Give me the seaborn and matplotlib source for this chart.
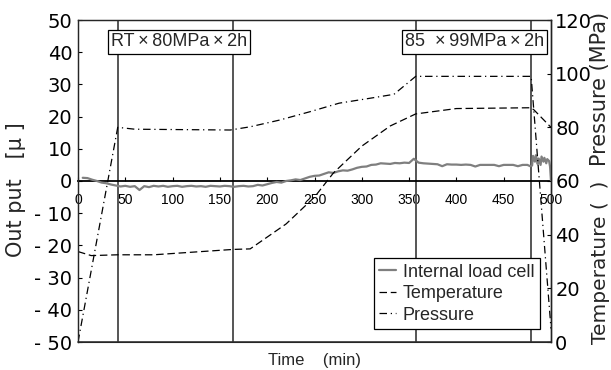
import matplotlib
matplotlib.use("Agg")
import matplotlib.pyplot as plt
import seaborn as sns
import pandas as pd

# ---------------- data ----------------
lc_time = [5, 10, 15, 20, 25, 30, 35, 40, 45, 50, 55, 60, 65, 70, 75, 80, 85, 90, 95, 100,
           105, 110, 115, 120, 125, 130, 135, 140, 145, 150, 155, 160, 165, 170, 175, 180,
           185, 190, 195, 200, 205, 210, 215, 220, 225, 230, 235, 240, 245, 250, 255, 260,
           265, 270, 275, 280, 285, 290, 295, 300, 305, 310, 315, 320, 325, 330, 335, 340,
           345, 350, 355, 360, 365, 370, 375, 380, 385, 390, 395, 400, 405, 410, 415, 420,
           425, 430, 435, 440, 445, 450, 455, 460, 465, 470, 475, 478, 480, 481, 483, 484,
           486, 487, 489, 490, 492, 493, 495, 496, 498, 499, 500]
lc_value = [1.0, 0.9, 0.4, 0.0, -0.5, -0.7, -1.1, -1.4, -1.7, -1.5, -1.8, -1.6, -2.8, -1.6,
            -1.9, -1.5, -1.7, -1.5, -1.8, -1.6, -1.5, -1.8, -1.6, -1.5, -1.7, -1.6, -1.8,
            -1.5, -1.6, -1.7, -1.5, -1.6, -1.8, -1.6, -1.5, -1.7, -1.6, -1.2, -1.4, -1.0,
            -0.6, -0.3, -0.5, 0.0, 0.2, 0.5, 0.3, 0.8, 1.3, 1.6, 1.7, 2.2, 2.7, 2.5, 3.0,
            3.3, 3.2, 3.6, 4.1, 4.4, 4.5, 5.0, 5.1, 5.5, 5.4, 5.3, 5.6, 5.5, 5.7, 5.6, 6.9,
            5.7, 5.5, 5.4, 5.3, 5.2, 4.6, 5.2, 5.1, 5.1, 5.0, 5.1, 5.0, 4.5, 5.0, 5.0, 5.0,
            5.0, 4.6, 5.0, 5.0, 5.0, 4.6, 5.0, 5.0, 4.6, 4.8, 7.8, 6.0, 8.0, 5.2, 7.0, 5.0,
            7.6, 6.0, 7.2, 5.5, 6.8, 6.2, 4.5, 0.0]

temp_time = [0, 14, 42, 80, 164, 182, 220, 250, 270, 300, 330, 357, 400, 479, 482, 500]
temp_value = [33.7, 32.2, 32.5, 32.5, 34.5, 34.7, 44.0, 54.0, 63.0, 73.0, 80.5, 85.0, 87.0,
              87.3, 86.5, 80.0]

pres_time = [0, 42, 60, 161, 182, 213, 245, 276, 308, 334, 357, 479, 500]
pres_value = [0.0, 80.0, 79.3, 79.0, 80.2, 82.7, 85.8, 89.0, 90.8, 92.3, 99.0, 99.0, 5.0]

phase_marks = [42, 164, 357, 479]
left_ticks = [-50, -40, -30, -20, -10, 0, 10, 20, 30, 40, 50]
left_labels = ["- 50", "- 40", "- 30", "- 20", "- 10", "0",
               "10", "20", "30", "40", "50"]
x_ticks = [0, 50, 100, 150, 200, 250, 300, 350, 400, 450, 500]
right_ticks = [0, 20, 40, 60, 80, 100, 120]
box1_text = "RT\u2009×\u200980MPa\u2009×\u20092h"
box2_text = "85  ×\u200999MPa\u2009×\u20092h"

# ---------------- style ----------------
sns.set_style("ticks")
plt.rcParams['font.family'] = ['Liberation Sans', 'DejaVu Sans']
plt.rcParams['xtick.direction'] = 'in'
plt.rcParams['ytick.direction'] = 'in'

W, H = 611, 370
fig = plt.figure(figsize=(W / 100, H / 100), dpi=100)
ax = fig.add_axes([78 / W, (H - 342) / H, (551 - 78) / W, (342 - 20) / H])
ax2 = ax.twinx()

lc_df = pd.DataFrame({"t": lc_time, "v": lc_value})
temp_df = pd.DataFrame({"t": temp_time, "v": temp_value})
pres_df = pd.DataFrame({"t": pres_time, "v": pres_value})

for xm in phase_marks:
    ax.axvline(xm, color="#555555", lw=1.4, zorder=1)

sns.lineplot(data=lc_df, x="t", y="v", ax=ax, color="#7f7f7f", lw=1.6,
             estimator=None, sort=False, label="Internal load cell", zorder=3)
sns.lineplot(data=temp_df, x="t", y="v", ax=ax2, color="black", lw=0.9,
             estimator=None, sort=False, label="Temperature")
sns.lineplot(data=pres_df, x="t", y="v", ax=ax2, color="black", lw=0.9,
             estimator=None, sort=False, label="Pressure")
ax2.lines[0].set_linestyle((0, (6, 3)))
ax2.lines[1].set_linestyle((0, (6, 3, 1, 3)))

# left axis
ax.set_xlim(0, 500)
ax.set_ylim(-50, 50)
ax.set_yticks(left_ticks)
ax.set_yticklabels(left_labels, fontfamily='DejaVu Sans', fontsize=14)
ax.set_xticks(x_ticks)
ax.set_xticklabels([str(v) for v in x_ticks], fontsize=12)
ax.spines['bottom'].set_position(('data', 0))
ax.spines['bottom'].set_color('black')
ax.spines['bottom'].set_linewidth(1.3)
for s in ['left', 'top', 'right']:
    ax.spines[s].set_color('#333333')
    ax.spines[s].set_linewidth(1.0)
ax.axhline(-50, color='#333333', lw=1.2, clip_on=False, zorder=5)
ax.tick_params(axis='both', length=3, width=0.8, colors='black')
ax.tick_params(axis='y', pad=4)
ax.tick_params(axis='x', pad=8.5)
ax.set_xlabel("Time    (min)", fontsize=12)
ax.xaxis.set_label_coords(0.5, -0.035)
ax.set_ylabel("")

# right axis
ax2.set_ylim(0, 120)
ax2.set_yticks(right_ticks)
ax2.set_yticklabels([str(v) for v in right_ticks], fontfamily='DejaVu Sans', fontsize=14)
ax2.tick_params(axis='y', length=3, width=0.8, pad=3, colors='black')
ax2.spines['right'].set_color('#222222')
ax2.spines['right'].set_linewidth(1.0)
ax2.set_ylabel("")
ax2.set_xlim(0, 500)

fig.text(16 / W, 1 - 190 / H, "Out put   [μ ]", rotation=90, ha='center', va='center',
         fontsize=15, fontfamily='DejaVu Sans')
fig.text(600 / W, 1 - 89 / H, "Pressure (MPa)", rotation=90, ha='center', va='center',
         fontsize=15, fontfamily='DejaVu Sans')
fig.text(600 / W, 1 - 262 / H, "Temperature (  )", rotation=90, ha='center', va='center',
         fontsize=14.5, fontfamily='DejaVu Sans')

bbox = dict(boxstyle='square,pad=0.18', facecolor='white', edgecolor='black', lw=0.9)
ax.text((111 - 78) / 473, (342 - 42) / 322, box1_text, transform=ax.transAxes,
        ha='left', va='center', fontsize=13, bbox=bbox, zorder=6)
ax.text((405 - 78) / 473, (342 - 42) / 322, box2_text, transform=ax.transAxes,
        ha='left', va='center', fontsize=13, bbox=bbox, zorder=6)

# legend
h1, l1 = ax.get_legend_handles_labels()
h2, l2 = ax2.get_legend_handles_labels()
if ax.get_legend():
    ax.get_legend().remove()
if ax2.get_legend():
    ax2.get_legend().remove()
leg = ax2.legend(h1 + h2, l1 + l2, loc='lower right',
                 bbox_to_anchor=((540 - 78) / 473, (342 - 329) / 322),
                 fontsize=13, handlelength=0.9, handletextpad=0.4, borderpad=0.3,
                 labelspacing=0.25, fancybox=False, framealpha=1, edgecolor='black',
                 borderaxespad=0)
leg.get_frame().set_linewidth(0.9)

fig.savefig("out.png", dpi=100)
